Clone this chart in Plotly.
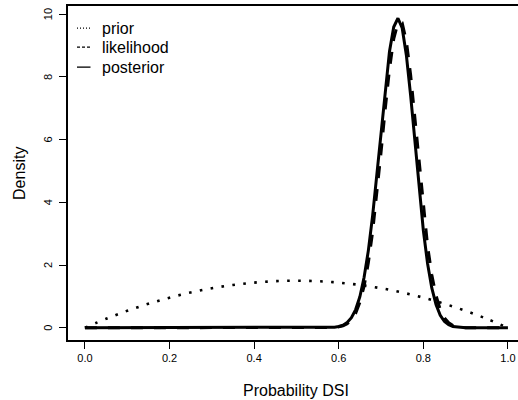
import plotly.graph_objects as go

# ---- data ----
prior_x = [0.00, 0.05, 0.10, 0.15, 0.20, 0.25, 0.30, 0.35, 0.40, 0.45, 0.50,
           0.55, 0.60, 0.65, 0.70, 0.75, 0.80, 0.85, 0.90, 0.95, 1.00]
prior_y = [0.0, 0.285, 0.54, 0.765, 0.96, 1.125, 1.26, 1.365, 1.44, 1.485, 1.5,
           1.485, 1.44, 1.365, 1.26, 1.125, 0.96, 0.765, 0.54, 0.285, 0.0]

grid_x = [0.00, 0.58, 0.59, 0.60, 0.61, 0.62, 0.63, 0.64, 0.65, 0.66, 0.67, 0.68,
          0.69, 0.70, 0.71, 0.72, 0.73, 0.74, 0.75, 0.76, 0.77, 0.78, 0.79, 0.80,
          0.81, 0.82, 0.83, 0.84, 0.85, 0.86, 0.87, 0.88, 0.89, 0.90, 1.00]
likelihood_y = [0.0, 0.0, 0.01, 0.03, 0.06, 0.13, 0.25, 0.46, 0.81, 1.33, 2.07, 3.04,
                4.24, 5.59, 6.98, 8.24, 9.21, 9.73, 9.72, 9.13, 8.06, 6.68, 5.20, 3.81,
                2.62, 1.69, 1.03, 0.58, 0.31, 0.16, 0.07, 0.03, 0.01, 0.0, 0.0]
posterior_y = [0.0, 0.01, 0.02, 0.04, 0.08, 0.17, 0.32, 0.58, 0.99, 1.61, 2.46, 3.56,
               4.86, 6.27, 7.65, 8.81, 9.59, 9.87, 9.56, 8.68, 7.40, 5.91, 4.43, 3.11,
               2.05, 1.27, 0.74, 0.40, 0.20, 0.10, 0.04, 0.02, 0.01, 0.0, 0.0]

x_ticks = [0.0, 0.2, 0.4, 0.6, 0.8, 1.0]
x_tick_text = ["0.0", "0.2", "0.4", "0.6", "0.8", "1.0"]
y_ticks = [0, 2, 4, 6, 8, 10]
y_tick_text = ["0", "2", "4", "6", "8", "10"]
legend_labels = ["prior", "likelihood", "posterior"]

FONT = "Liberation Sans, Arial, Helvetica, sans-serif"

fig = go.Figure()
fig.add_trace(go.Scatter(x=grid_x, y=likelihood_y, mode="lines",
                         line=dict(color="black", width=3, dash="12px,11px"),
                         showlegend=False, hoverinfo="skip"))
fig.add_trace(go.Scatter(x=grid_x, y=posterior_y, mode="lines",
                         line=dict(color="black", width=3),
                         showlegend=False, hoverinfo="skip"))
fig.add_trace(go.Scatter(x=prior_x, y=prior_y, mode="lines",
                         line=dict(color="black", width=2.6, dash="2.6px,8.4px", shape="spline"),
                         showlegend=False, hoverinfo="skip"))

# legend (R style, no box)
leg_y = [0.934, 0.877, 0.817]
leg_dash = ["1px,2px", "3px,2px", "solid"]
for lab, yy, dd in zip(legend_labels, leg_y, leg_dash):
    fig.add_shape(type="line", xref="paper", yref="paper", x0=0.02, x1=0.05,
                  y0=yy, y1=yy, line=dict(color="black", width=1.3, dash=dd))
    fig.add_annotation(xref="paper", yref="paper", x=0.071, y=yy, text=lab,
                       showarrow=False, xanchor="left", yanchor="middle",
                       font=dict(family=FONT, size=16, color="black"))

# rotated y tick labels (R style)
for v, t in zip(y_ticks, y_tick_text):
    fig.add_annotation(xref="paper", yref="y", x=-0.0444, y=v, text=t,
                       showarrow=False, xanchor="center", yanchor="middle", textangle=-90,
                       font=dict(family=FONT, size=11, color="black"))

# axis titles
fig.add_annotation(xref="x", yref="paper", x=0.5, y=-0.150, text="Probability DSI",
                   showarrow=False, xanchor="center", yanchor="middle",
                   font=dict(family=FONT, size=16, color="black"))
fig.add_annotation(xref="paper", yref="paper", x=-0.109, y=0.50, text="Density",
                   showarrow=False, xanchor="center", yanchor="middle", textangle=-90,
                   font=dict(family=FONT, size=16, color="black"))

fig.update_layout(
    width=518, height=400,
    margin=dict(l=68, r=0, t=6, b=60),
    paper_bgcolor="white", plot_bgcolor="white",
    font=dict(family=FONT, size=11, color="black"),
    xaxis=dict(range=[-0.04, 1.0238], tickvals=x_ticks, ticktext=x_tick_text,
               ticks="outside", ticklen=7, tickcolor="black", tickwidth=1,
               showline=True, linecolor="black", linewidth=1.5, mirror=True,
               showgrid=False, zeroline=False, tickfont=dict(size=11)),
    yaxis=dict(range=[-0.39, 10.26], tickvals=y_ticks, showticklabels=False,
               ticks="outside", ticklen=7, tickcolor="black", tickwidth=1,
               showline=True, linecolor="black", linewidth=1.5, mirror=False,
               showgrid=False, zeroline=False),
)

fig.write_html("out.html")
